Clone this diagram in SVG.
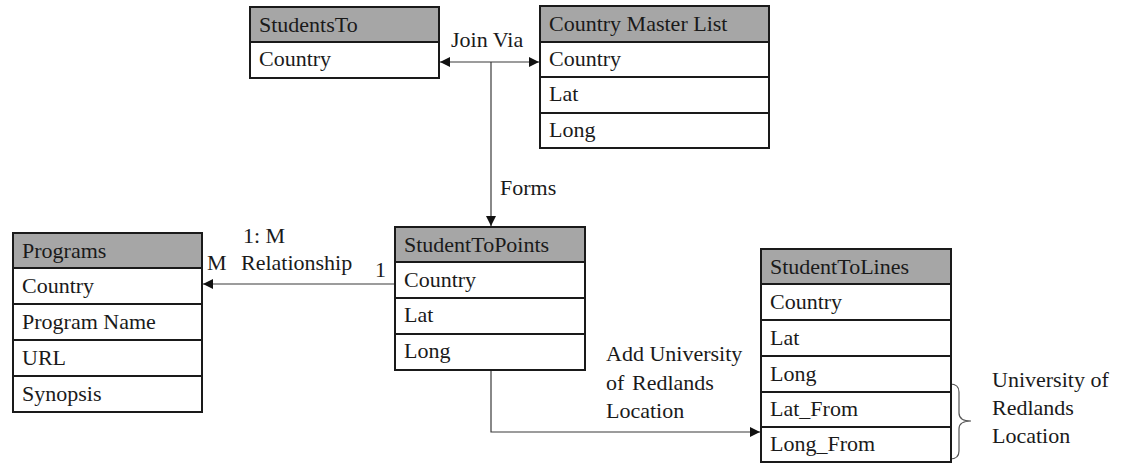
<svg xmlns="http://www.w3.org/2000/svg" width="1123" height="463" viewBox="0 0 1123 463" font-family="'Liberation Serif', 'DejaVu Serif', serif" font-size="22">
  <defs>
    <style>
      text { font-family: 'Liberation Serif', 'DejaVu Serif', serif; font-size: 22px; fill: #1a1a1a; }
      .frame { fill: #ffffff; stroke: #1a1a1a; stroke-width: 2; }
      .head { fill: #a6a6a6; stroke: #1a1a1a; stroke-width: 2; }
      .sep { stroke: #1a1a1a; stroke-width: 2; }
      .link { fill: none; stroke: #3a3a3a; stroke-width: 1.2; }
      .brace { fill: none; stroke: #555555; stroke-width: 1.2; }
    </style>
    <marker id="arrow" viewBox="0 0 10 10" refX="10" refY="5" markerWidth="10" markerHeight="10" markerUnits="userSpaceOnUse" orient="auto-start-reverse">
      <path d="M0,0 L10,5 L0,10 z" fill="#111111"/>
    </marker>
  </defs>

  <rect width="1123" height="463" fill="#ffffff"/>

  <!-- connectors -->
  <g id="connectors">
    <line class="link" x1="440" y1="62" x2="539" y2="62" marker-start="url(#arrow)" marker-end="url(#arrow)"/>
    <line class="link" x1="491" y1="62" x2="491" y2="226" marker-end="url(#arrow)"/>
    <line class="link" x1="395" y1="284" x2="203" y2="284" marker-end="url(#arrow)"/>
    <path class="link" d="M491,371 V432 H760" marker-end="url(#arrow)"/>
    <path class="brace" d="M950,384 Q959,384 959,392 V413 Q959,421 971,421 Q959,421 959,429 V451 Q959,459 950,459"/>
  </g>

  <!-- connector labels -->
  <g id="labels">
    <text x="451" y="47">Join Via</text>
    <text x="500" y="195">Forms</text>
    <text x="243" y="243">1: M</text>
    <text x="207" y="270">M</text>
    <text x="241" y="270">Relationship</text>
    <text x="375" y="277">1</text>
    <text x="606" y="361">Add University</text>
    <text x="606" y="390">of</text>
    <text x="632" y="390">Redlands</text>
    <text x="606" y="418">Location</text>
    <text x="992" y="387">University of</text>
    <text x="992" y="415">Redlands</text>
    <text x="992" y="443">Location</text>
  </g>

  <!-- StudentsTo table -->
  <g id="studentsTo">
    <rect class="frame" x="250" y="7" width="189" height="71"/>
    <rect class="head" x="250" y="7" width="189" height="35"/>
    <text x="259" y="32">StudentsTo</text>
    <text x="259" y="66">Country</text>
  </g>

  <!-- Country Master List table -->
  <g id="countryMasterList">
    <rect class="frame" x="540" y="6" width="229" height="142"/>
    <rect class="head" x="540" y="6" width="229" height="36"/>
    <line class="sep" x1="540" y1="77" x2="769" y2="77"/>
    <line class="sep" x1="540" y1="113" x2="769" y2="113"/>
    <text x="549" y="31">Country Master List</text>
    <text x="549" y="66">Country</text>
    <text x="549" y="101">Lat</text>
    <text x="549" y="137">Long</text>
  </g>

  <!-- StudentToPoints table -->
  <g id="studentToPoints">
    <rect class="frame" x="395" y="227" width="190" height="143"/>
    <rect class="head" x="395" y="227" width="190" height="35"/>
    <line class="sep" x1="395" y1="298" x2="585" y2="298"/>
    <line class="sep" x1="395" y1="334" x2="585" y2="334"/>
    <text x="404" y="252">StudentToPoints</text>
    <text x="404" y="287">Country</text>
    <text x="404" y="322">Lat</text>
    <text x="404" y="358">Long</text>
  </g>

  <!-- Programs table -->
  <g id="programs">
    <rect class="frame" x="13" y="233" width="189" height="179"/>
    <rect class="head" x="13" y="233" width="189" height="35"/>
    <line class="sep" x1="13" y1="304" x2="202" y2="304"/>
    <line class="sep" x1="13" y1="340" x2="202" y2="340"/>
    <line class="sep" x1="13" y1="376" x2="202" y2="376"/>
    <text x="22" y="258">Programs</text>
    <text x="22" y="293">Country</text>
    <text x="22" y="329">Program Name</text>
    <text x="22" y="365">URL</text>
    <text x="22" y="401">Synopsis</text>
  </g>

  <!-- StudentToLines table -->
  <g id="studentToLines">
    <rect class="frame" x="761" y="249" width="190" height="213"/>
    <rect class="head" x="761" y="249" width="190" height="35"/>
    <line class="sep" x1="761" y1="320" x2="951" y2="320"/>
    <line class="sep" x1="761" y1="356" x2="951" y2="356"/>
    <line class="sep" x1="761" y1="392" x2="951" y2="392"/>
    <line class="sep" x1="761" y1="427" x2="951" y2="427"/>
    <text x="770" y="274">StudentToLines</text>
    <text x="770" y="309">Country</text>
    <text x="770" y="345">Lat</text>
    <text x="770" y="381">Long</text>
    <text x="770" y="416">Lat_From</text>
    <text x="770" y="451">Long_From</text>
  </g>
</svg>
